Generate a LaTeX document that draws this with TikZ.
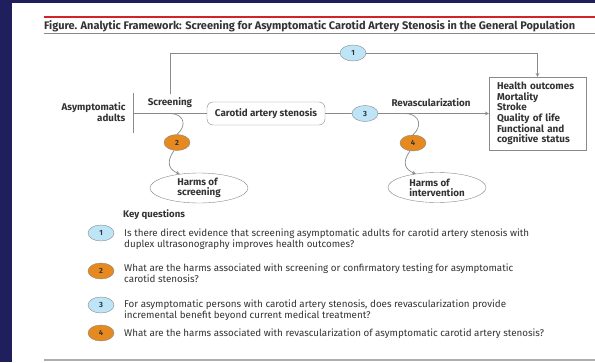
\documentclass[tikz,border=0pt]{standalone}
\usepackage{fontspec}
\setmainfont{Fira Sans}
\usepackage{tikz}
\usepackage{xcolor}
\usetikzlibrary{shapes.geometric, arrows, positioning, calc}
\definecolor{framenavy}{HTML}{1F1F5E}
\definecolor{titlered}{HTML}{D2232A}
\definecolor{kqblue}{HTML}{BDE5F7}
\definecolor{kqorange}{HTML}{E6891E}
\definecolor{linegray}{HTML}{8A8A8A}
\definecolor{txtgray}{HTML}{333333}

\begin{document}
\begin{tikzpicture}[x=1pt, y=-1pt, >=stealth,
  every node/.style={font=\fontsize{9.8}{10.2}\selectfont, text=txtgray},
  lbl/.style={font=\fontsize{9.8}{10.2}\selectfont\bfseries},
  kq/.style={ellipse, draw=linegray, minimum width=26, minimum height=16, inner sep=0pt, font=\fontsize{7.5}{8}\selectfont\bfseries},
  harm/.style={ellipse, draw=linegray, minimum width=98, minimum height=30, inner sep=0pt, align=left},
  link/.style={draw=linegray, line width=0.7pt}]
% frame
\fill[framenavy] (0,0) rectangle (595,362);
\fill[white] (12,3) rectangle (595,362);
\useasboundingbox (0,0) rectangle (595,362);

% title
\draw[titlered, line width=1.2pt] (44,17) -- (595,17);
\node[anchor=west, inner sep=0pt, font=\fontsize{11}{12}\selectfont\bfseries] (title) at (44,26) {Figure. Analytic Framework: Screening for Asymptomatic Carotid Artery Stenosis in the General Population};
\draw[linegray, line width=0.6pt] (44,33.5) -- (595,33.5);

% population and screening
\node[lbl, anchor=east, align=right, font=\fontsize{9.8}{11}\selectfont\bfseries] (adults) at (129,112) {Asymptomatic\\adults};
\coordinate (bartop) at (133,93);
\coordinate (barbot) at (133,133);
\draw[link] (bartop) -- (barbot);
\coordinate (split) at (133,113.5);
\node[lbl] (screenlbl) at (170,103) {Screening};
\node[lbl, draw=linegray, rounded corners=6pt, minimum width=118, minimum height=23] (carotid) at (266,113.5) {Carotid artery stenosis};

% treatment and outcomes
\node[kq, fill=kqblue] (k3) at (365,113.5) {3};
\node[lbl] (revlbl) at (431,103) {Revascularization};
\node[draw=linegray, align=left, text width=81, inner xsep=8pt, minimum height=73, font=\fontsize{9.9}{10.6}\selectfont\bfseries] (health) at (537.5,113.5) {Health outcomes\\Mortality\\Stroke\\Quality of life\\Functional and\\cognitive status};
\node[kq, fill=kqblue] (k1) at (353,53) {1};

\draw[link] (screenlbl.north) |- (k1.west);
\draw[link, ->] (k1.east) -| (health.north);
\draw[link] (split) -- (carotid.west);
\draw[link] (carotid.east) -- (k3.west);
\draw[link, ->] (k3.east) -- (health.west);

% harms
\node[kq, fill=kqorange] (k2) at (177,142.5) {2};
\node[harm, lbl] (harms1) at (199,188) {Harms of\\screening};
\coordinate (branch1) at (170,113.5);
\draw[link] (branch1) .. controls (186,114) and (186,127) .. (k2.north);
\draw[link, ->] (k2.250) .. controls (165,163) and (170,170) .. (harms1.144);

\node[kq, fill=kqorange] (k4) at (413,143) {4};
\node[harm, lbl] (harms2) at (437,187.5) {Harms of\\intervention};
\coordinate (branch2) at (405,113.5);
\draw[link] (branch2) .. controls (421,114) and (422,127) .. (k4.north);
\draw[link, ->] (k4.250) .. controls (401,163) and (406,170) .. (harms2.147);

% key questions
\node[anchor=west, inner sep=0pt, font=\fontsize{9.6}{10}\selectfont\bfseries] (kqtitle) at (123,215) {Key questions};
\foreach \n/\cy/\ty/\col/\txt in {
  1/233/233/kqblue/{Is there direct evidence that screening asymptomatic adults for carotid artery stenosis with\\duplex ultrasonography improves health outcomes?},
  2/271/268/kqorange/{What are the harms associated with screening or confirmatory testing for asymptomatic\\carotid stenosis?},
  3/305/304/kqblue/{For asymptomatic persons with carotid artery stenosis, does revascularization provide\\incremental benefit beyond current medical treatment?},
  4/333/333/kqorange/{What are the harms associated with revascularization of asymptomatic carotid artery stenosis?}} {
  \node[kq, fill=\col] (q\n) at (101,\cy) {\n};
  \node[anchor=north west, inner sep=0pt, align=left] (qt\n) at (124,\ty-4) {\txt};
}
\draw[linegray!70, line width=1.4pt] (44,360) -- (595,360);
\end{tikzpicture}
\end{document}
